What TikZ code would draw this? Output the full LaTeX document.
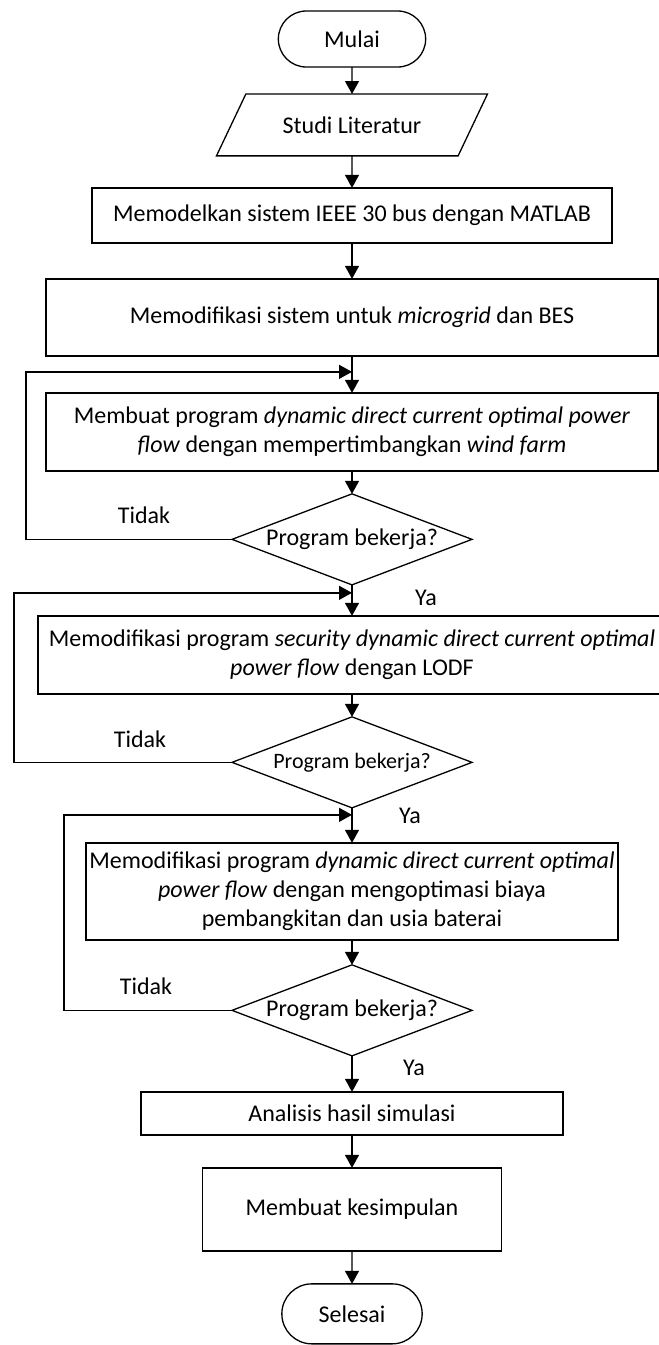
\documentclass[tikz,border=0pt]{standalone}
\usepackage{fontspec}
\setmainfont{Carlito}
\usepackage{tikz}
\usetikzlibrary{positioning, arrows.meta, shapes.geometric, shapes.misc}
\tikzset{
    >={Triangle[length=13pt,width=14pt]}, % filled arrow tips like the original
    every node/.style={font=\fontsize{24}{29}\selectfont, outer sep=0pt},
    every path/.style={line width=1.3pt},
    node distance=30pt, % gap between two boxes, changed per node below
    procnode/.style={rectangle, draw, align=center, inner sep=2pt},
    termnode/.style={rounded rectangle, draw, minimum width=154pt, minimum height=56pt},
    ionode/.style={trapezium, draw, trapezium left angle=64.6, trapezium right angle=115.4, inner ysep=22.5pt, minimum width=271pt, trapezium stretches body=true},
    decisionnode/.style={diamond, draw, shape aspect=2.6, minimum width=240pt, minimum height=91pt, inner sep=0pt},
    lbl/.style={inner sep=0pt},
    }

\begin{document}
\begin{tikzpicture}[x=1pt, y=1pt]
\useasboundingbox (0,0) rectangle (659,-1345);

\node[termnode] (1) at (352,-39) {Mulai};
\node[ionode, below=27pt of 1] (2) {Studi Literatur};
\node[procnode, minimum width=520pt, minimum height=55pt, below=32pt of 2] (3) {Memodelkan sistem IEEE 30 bus dengan MATLAB};
\node[procnode, minimum width=612pt, minimum height=77pt, below=36pt of 3] (4) {Memodifikasi sistem untuk \textit{microgrid} dan BES};
\node[procnode, minimum width=612pt, minimum height=78pt, below=37pt of 4] (5) {Membuat program \textit{dynamic direct current optimal power}\\ \textit{flow} dengan mempertimbangkan \textit{wind farm}};
\node[decisionnode, below=23pt of 5] (6) {Program bekerja?};
\node[procnode, minimum width=628pt, minimum height=78pt, below=31pt of 6] (7) {Memodifikasi program \textit{security dynamic direct current optimal}\\ \textit{power flow} dengan LODF};
\node[decisionnode, below=23pt of 7, font=\fontsize{22}{27}\selectfont] (8) {Program bekerja?};
\node[procnode, minimum width=532pt, minimum height=97pt, below=35pt of 8] (9) {Memodifikasi program \textit{dynamic direct current optimal}\\ \textit{power flow} dengan mengoptimasi biaya\\ pembangkitan dan usia baterai};
\node[decisionnode, below=25pt of 9] (10) {Program bekerja?};
\node[procnode, minimum width=422pt, minimum height=43pt, below=36pt of 10] (11) {Analisis hasil simulasi};
\node[procnode, minimum width=299pt, minimum height=83pt, below=33pt of 11] (12) {Membuat kesimpulan};
\node[termnode, minimum width=147pt, minimum height=60pt, below=33pt of 12] (13) {Selesai};

\coordinate[below=16pt of 4] (j1);
\coordinate[below=8pt of 6] (j2);
\coordinate[below=7pt of 8] (j3);

\node[lbl] (t1) at ([shift={(-88,24)}]6.west) {Tidak};
\node[lbl] (y1) at ([shift={(74,-13)}]6.south) {Ya};
\node[lbl] (t2) at ([shift={(-92,23)}]8.west) {Tidak};
\node[lbl] (y2) at ([shift={(58,-8)}]8.south) {Ya};
\node[lbl] (t3) at ([shift={(-86,24)}]10.west) {Tidak};
\node[lbl] (y3) at ([shift={(62,-12)}]10.south) {Ya};

\draw[->] (1) -- (2);
\draw[->] (2) -- (3);
\draw[->] (3) -- (4);
\draw[->] (4) -- (5);
\draw[->] (5) -- (6);
\draw[->] (6) -- (7);
\draw[->] (7) -- (8);
\draw[->] (8) -- (9);
\draw[->] (9) -- (10);
\draw[->] (10) -- (11);
\draw[->] (11) -- (12);
\draw[->] (12) -- (13);

\draw[->] (6.west) -- ++(-206,0) |- (j1);
\draw[->] (8.west) -- ++(-218,0) |- (j2);
\draw[->] (10.west) -- ++(-168,0) |- (j3);

\end{tikzpicture}
\end{document}
